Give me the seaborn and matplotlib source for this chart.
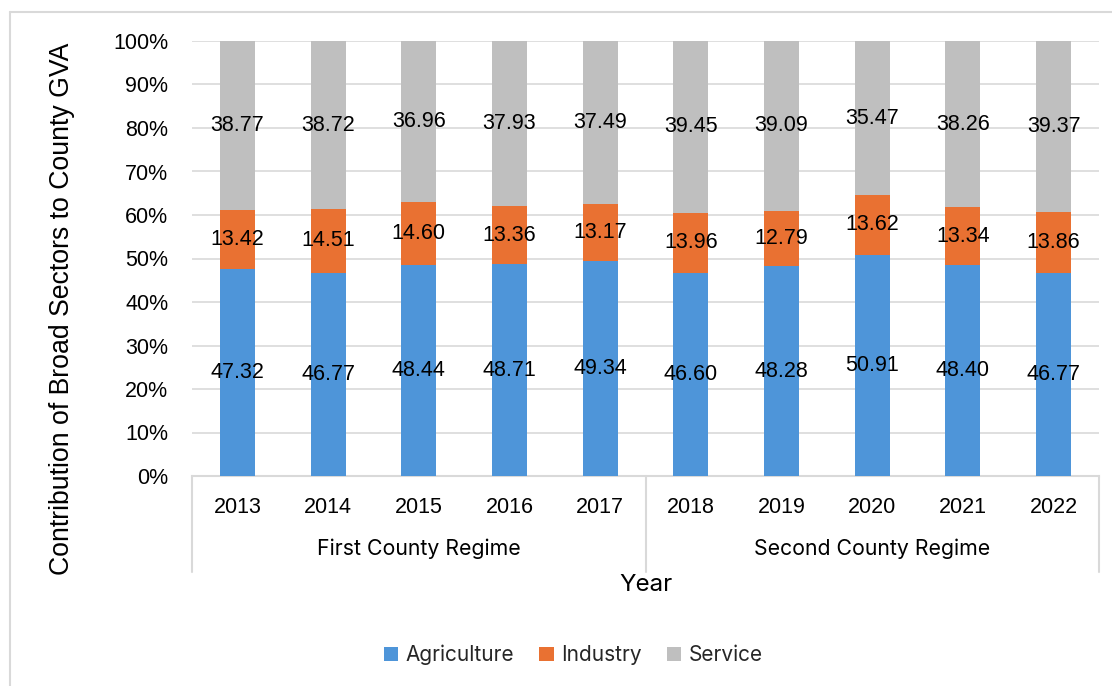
import matplotlib
matplotlib.use("Agg")
import matplotlib.pyplot as plt
import matplotlib.transforms as mtransforms
from matplotlib.patches import Patch
from matplotlib.lines import Line2D
import numpy as np
import pandas as pd
import seaborn as sns

# Sector contributions (%) to county GVA by year
years = ["2013", "2014", "2015", "2016", "2017", "2018", "2019", "2020", "2021", "2022"]
regimes = ["First County Regime", "Second County Regime"]
regime_sizes = [5, 5]
agriculture = [47.32, 46.77, 48.44, 48.71, 49.34, 46.60, 48.28, 50.91, 48.40, 46.77]
industry = [13.42, 14.51, 14.60, 13.36, 13.17, 13.96, 12.79, 13.62, 13.34, 13.86]
service = [38.77, 38.72, 36.96, 37.93, 37.49, 39.45, 39.09, 35.47, 38.26, 39.37]

sectors = ["Agriculture", "Industry", "Service"]
colors = {"Agriculture": "#4E95D9", "Industry": "#E97132", "Service": "#BFBFBF"}

sns.set_theme(style="white")
num_font = "Liberation Sans"
txt_font = "Inter"
plt.rcParams["font.family"] = [num_font, "DejaVu Sans"]

df = pd.DataFrame({"Year": years, "Agriculture": agriculture,
                   "Industry": industry, "Service": service})
total = df[sectors].sum(axis=1)
for s in sectors:
    df[s + "_pct"] = df[s] / total * 100
df["cum_agri"] = df["Agriculture_pct"]
df["cum_ind"] = df["cum_agri"] + df["Industry_pct"]
df["cum_srv"] = df["cum_ind"] + df["Service_pct"]

fig = plt.figure(figsize=(11.12, 6.86), dpi=100)
ax = fig.add_axes([192 / 1112, 1 - 476 / 686, 907 / 1112, 435 / 686])

bar_w = 0.385
# Stacked 100% bars: draw cumulative heights from tallest to shortest
for col, sector in [("cum_srv", "Service"), ("cum_ind", "Industry"), ("cum_agri", "Agriculture")]:
    sns.barplot(data=df, x="Year", y=col, color=colors[sector], width=bar_w,
                saturation=1, errorbar=None, ax=ax, zorder=3, linewidth=0)

# Segment value labels
lows = {"Agriculture": np.zeros(len(df)), "Industry": df["cum_agri"].values,
        "Service": df["cum_ind"].values}
for sector in sectors:
    mids = lows[sector] + df[sector + "_pct"].values / 2
    for i, (m, v) in enumerate(zip(mids, df[sector].values)):
        ax.text(i, m, f"{v:.2f}", ha="center", va="center", fontsize=15.5,
                family=num_font, color="#000000", zorder=5)

ax.set_xlim(-0.5, len(years) - 0.5)
ax.set_ylim(0, 100)
ax.set_yticks(np.arange(0, 101, 10))
ax.set_yticklabels([f"{t}%" for t in range(0, 101, 10)])
ax.yaxis.grid(True, color="#D9D9D9", linewidth=1.2, zorder=0)
ax.set_axisbelow(True)
for sp in ["top", "right", "left"]:
    ax.spines[sp].set_visible(False)
ax.spines["bottom"].set_color("#D9D9D9")
ax.spines["bottom"].set_linewidth(1.5)
ax.tick_params(axis="y", length=0, pad=17, labelsize=15.5, labelcolor="#000000")
ax.tick_params(axis="x", length=0, pad=15, labelsize=15.5, labelcolor="#000000")
ax.set_xlabel("")
ax.set_ylabel("")

# Value-axis title, centred on the full plot + category area
fig.text(62 / 1112, 1 - 308.5 / 686, "Contribution of Broad Sectors to County GVA",
         rotation=90, ha="center", va="center", fontsize=19.2, family=num_font,
         color="#000000")

# Multi-level category axis: group separators and group labels
trans = mtransforms.blended_transform_factory(ax.transData, ax.transAxes)
edges = np.concatenate([[0], np.cumsum(regime_sizes)]) - 0.5
for e in edges:
    ax.add_line(Line2D([e, e], [0, -0.22], transform=trans, color="#D9D9D9",
                       linewidth=1.5, clip_on=False))
for k, name in enumerate(regimes):
    center = (edges[k] + edges[k + 1]) / 2
    ax.text(center, -0.168, name, transform=trans, ha="center", va="center",
            fontsize=15.3, family=txt_font, color="#000000")

fig.text((192 + 1099) / 2 / 1112, 1 - 585 / 686, "Year", ha="center", va="center",
         fontsize=17.4, family=txt_font, color="#000000")

handles = [Patch(facecolor=colors[s], edgecolor="none", label=s) for s in sectors]
leg = fig.legend(handles=handles, loc="center", bbox_to_anchor=(573 / 1112, 1 - 655 / 686),
                 ncol=3, frameon=False, handlelength=0.7, handleheight=0.7,
                 handletextpad=0.35, columnspacing=1.2, prop={"family": txt_font, "size": 15})

# Chart area outline
fig.add_artist(Line2D([10 / 1112, 10 / 1112], [0, 1 - 12 / 686], color="#D9D9D9",
                      linewidth=1.5, transform=fig.transFigure))
fig.add_artist(Line2D([10 / 1112, 1], [1 - 12 / 686, 1 - 12 / 686], color="#D9D9D9",
                      linewidth=1.5, transform=fig.transFigure))

fig.savefig("out.png", dpi=100, facecolor="white")
